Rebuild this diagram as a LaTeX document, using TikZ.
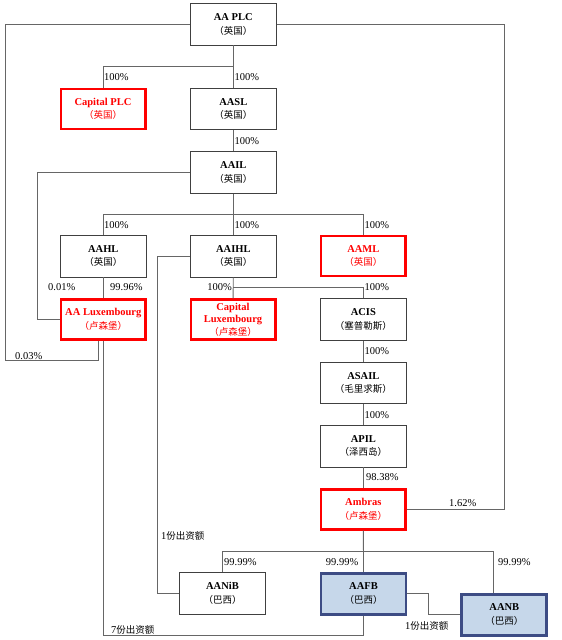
\documentclass[tikz,border=0pt]{standalone}
\usepackage{fontspec}
\setmainfont{Liberation Serif}
\newfontfamily\cjk{Noto Sans CJK SC}
\definecolor{bluefill}{HTML}{C6D7EA}
\definecolor{bluedge}{HTML}{3D4C84}
\newcommand{\place}[1]{{\cjk\mdseries\fontsize{9.5}{12.5}\selectfont （#1）}}
\newcommand{\shares}[1]{#1{\cjk\fontsize{9.5}{12}\selectfont 份出资额}}
\begin{document}
\begin{tikzpicture}[x=1pt, y=-1pt,
  box/.style={draw=black!75, line width=0.7pt, rectangle, align=center, font=\bfseries\fontsize{10.5}{12.5}\selectfont, minimum width=86pt, minimum height=41.5pt, inner sep=2pt, fill=white},
  redbox/.style={box, draw=red, line width=2.5pt, text=red, minimum width=84.5pt, minimum height=40pt},
  bluebox/.style={box, draw=bluedge, line width=2.8pt, fill=bluefill, minimum width=85pt, minimum height=41pt},
  pct/.style={font=\fontsize{10.5}{12}\selectfont, inner sep=0pt},
  conn/.style={draw=black!60, line width=0.8pt}
]
\useasboundingbox (0,0) rectangle (562,640);

% Top: AA PLC and its two subsidiaries
\node[box] (aaplc) at (233.3, 24.3) {AA PLC\\[1pt]\place{英国}};
\node[redbox] (capplc) at (103, 108.8) {Capital PLC\\[1pt]\place{英国}};
\node[box] (aasl) at (233.3, 108.8) {AASL\\[1pt]\place{英国}};
\node[box] (aail) at (233.3, 172.5) {AAIL\\[1pt]\place{英国}};

\coordinate (j1) at (233.3, 66.7);
\draw[conn] (aaplc) -- (aasl);
\draw[conn] (j1) -| (capplc);
\draw[conn] (aasl) -- (aail);

\node[pct, anchor=west] (lp1) at (104, 76.7) {100\%};
\node[pct, anchor=west] (lp2) at (234.5, 76.7) {100\%};
\node[pct, anchor=west] (lp3) at (234.5, 140.7) {100\%};

% Row 2: AAHL, AAIHL, AAML
\node[box] (aahl) at (103.3, 256.2) {AAHL\\[1pt]\place{英国}};
\node[box] (aaihl) at (233.3, 256.2) {AAIHL\\[1pt]\place{英国}};
\node[redbox] (aaml) at (363.3, 256.2) {AAML\\[1pt]\place{英国}};

\coordinate (j2) at (233.3, 214.3);
\draw[conn] (aail) -- (aaihl);
\draw[conn] (j2) -| (aahl);
\draw[conn] (j2) -| (aaml);

\node[pct, anchor=west] (lp4) at (104, 224.7) {100\%};
\node[pct, anchor=west] (lp5) at (234.5, 224.7) {100\%};
\node[pct, anchor=west] (lp6) at (364.5, 224.7) {100\%};

% Row 3: Luxembourg entities and ACIS
\node[redbox] (aalux) at (103.3, 319.5) {AA Luxembourg\\[1pt]\place{卢森堡}};
\node[redbox] (caplux) at (233, 319.6) {Capital\\Luxembourg\\\place{卢森堡}};
\node[box] (acis) at (363.3, 319.5) {ACIS\\[1pt]\place{塞普勒斯}};

\coordinate (j3) at (233.3, 287.7);
\coordinate (c3) at (37.7, 319.5);
\draw[conn] (aahl) -- (aalux);
\draw[conn] (aail.west) -| (c3) -- (aalux.west);
\draw[conn] (aaihl) -- (caplux);
\draw[conn] (j3) -| (acis);

\node[pct, anchor=west] (l001) at (48, 287.3) {0.01\%};
\node[pct, anchor=west] (l9996) at (110, 287.3) {99.96\%};
\node[pct, anchor=east] (lcl) at (232, 287.3) {100\%};
\node[pct, anchor=west] (lacis) at (364.5, 287.3) {100\%};

% Right column down to Ambras
\node[box] (asail) at (363.3, 382.8) {ASAIL\\[1pt]\place{毛里求斯}};
\node[box] (apil) at (363.3, 446.2) {APIL\\[1pt]\place{泽西岛}};
\node[redbox] (ambras) at (363.3, 509.3) {Ambras\\[1pt]\place{卢森堡}};

\draw[conn] (acis) -- (asail);
\draw[conn] (asail) -- (apil);
\draw[conn] (apil) -- (ambras);

\node[pct, anchor=west] (lasail) at (364.5, 350.7) {100\%};
\node[pct, anchor=west] (lapil) at (364.5, 415) {100\%};
\node[pct, anchor=west] (l9838) at (366, 476.7) {98.38\%};

% Direct holdings of AA PLC
\coordinate (c1) at (5, 360.7);
\coordinate (c2) at (504, 509.3);
\draw[conn] (aaplc.west) -| (c1) -| ([xshift=-5pt]aalux.south);
\draw[conn] (aaplc.east) -| (c2) -- (ambras.east);

\node[pct, anchor=west] (l003) at (15, 356.2) {0.03\%};
\node[pct] (l162) at (462.7, 503.3) {1.62\%};

% Bottom: Brazilian entities
\node[box] (aanib) at (222.5, 593.3) {AANiB\\[1pt]\place{巴西}};
\node[bluebox] (aafb) at (363.5, 593.7) {AAFB\\[1pt]\place{巴西}};
\node[bluebox] (aanb) at (504.3, 614.7) {AANB\\[1pt]\place{巴西}};

\coordinate (j4) at (363.3, 551);
\coordinate (c5) at (493.3, 551);
\draw[conn] (ambras) -- (aafb);
\draw[conn] (j4) -| (aanib);
\draw[conn] (j4) -- (c5) -- (c5 |- aanb.north);

\node[pct, anchor=west] (lnib) at (224, 561.7) {99.99\%};
\node[pct, anchor=east] (lfb) at (358.5, 561.7) {99.99\%};
\node[pct, anchor=west] (lnb) at (498, 561.7) {99.99\%};

\coordinate (c8) at (157.3, 593.3);
\coordinate (c9) at (428.3, 593.7);
\coordinate (c7) at (103.3, 635);
\draw[conn] (aaihl.west) -| (c8) -- (aanib.west);
\draw[conn] (aafb.east) -- (c9) |- (aanb.west);
\draw[conn] (aafb.south) |- (c7) -- (aalux.south);

\node[pct, anchor=west] (lsh1) at (161, 535.7) {\shares{1}};
\node[pct, anchor=west] (lsh2) at (405, 626) {\shares{1}};
\node[pct, anchor=west] (lsh7) at (111, 630.2) {\shares{7}};

\end{tikzpicture}
\end{document}
